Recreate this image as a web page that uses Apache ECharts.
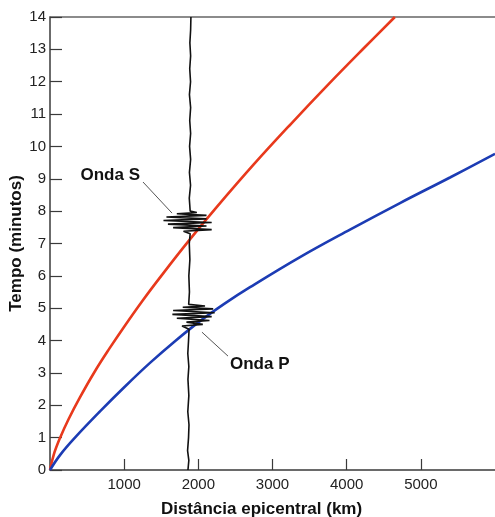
<!DOCTYPE html>
<html>
<head>
<meta charset="utf-8">
<script src="https://cdn.jsdelivr.net/npm/echarts@6/dist/echarts.min.js"></script>
<style>
html,body{margin:0;padding:0;background:#fff;}
#c{width:495px;height:517px;}
</style>
</head>
<body>
<div id="c"></div>
<script>
// x ticks (km) and y ticks (minutes)
const xTicks = [0, 1000, 2000, 3000, 4000, 5000, 6000];
const yTicks = [0,1,2,3,4,5,6,7,8,9,10,11,12,13,14];

// S-wave travel-time curve: [distance km, time min]
const sWave = [[0,0],[50,0.47],[135,0.99],[250,1.57],[400,2.23],[600,3.03],[800,3.75],[1000,4.43],[1250,5.24],[1500,6.0],[1870,7.08],[2250,8.13],[2750,9.45],[3250,10.7],[3750,11.91],[4250,13.08],[4650,14]];

// P-wave travel-time curve
const pWave = [[0,0],[135,0.46],[337,1.0],[674,1.81],[1011,2.58],[1348,3.31],[1685,3.98],[2022,4.6],[2359,5.15],[2697,5.65],[3371,6.58],[4045,7.43],[4719,8.25],[5393,9.04],[6000,9.77]];

// Seismogram trace recorded at ~1870 km
const seismogram = [
 [1860,0],[1872,0.3],[1855,0.6],[1868,1.0],[1874,1.4],[1858,1.8],[1872,2.3],[1860,2.8],[1872,3.2],[1858,3.6],[1868,4.0],[1875,4.35],
 [1780,4.45],[2060,4.5],[1840,4.57],[2150,4.62],[1710,4.69],[2180,4.74],[1650,4.81],[2220,4.86],[1660,4.93],[2200,4.98],[1790,5.03],[2090,5.07],[1870,5.12],
 [1880,5.5],[1872,6.0],[1886,6.5],[1878,7.0],[1890,7.3],
 [1800,7.38],[2180,7.43],[1660,7.49],[2110,7.54],[1590,7.6],[2180,7.65],[1530,7.71],[2110,7.76],[1570,7.82],[2110,7.87],[1710,7.92],[1980,7.96],[1890,8.0],
 [1878,8.4],[1895,8.8],[1880,9.2],[1896,9.6],[1882,10],[1896,10.4],[1884,10.8],[1896,11.2],[1880,11.6],[1895,12],[1884,12.4],[1896,12.8],[1886,13.2],[1896,13.6],[1900,14]
];

// annotation leader lines
const leaderS = [[1254,8.9],[1645,7.94]];
const leaderP = [[2049,4.26],[2400,3.52]];
const labelS = {text:'Onda S', at:[1213,9.12]};
const labelP = {text:'Onda P', at:[2427,3.28]};

const chart = echarts.init(document.getElementById('c'), null, {renderer:'canvas'});
const axisCol = '#3a3a3a';
const font = '"Liberation Sans", Arial, sans-serif';

chart.setOption({
  animation:false,
  backgroundColor:'#ffffff',
  grid:{left:50, right:0, top:17, bottom:47, containLabel:false, outerBoundsMode:'none'},
  xAxis:[{
    type:'value', min:xTicks[0], max:xTicks[xTicks.length-1], interval:1000,
    name:'Distância epicentral (km)', nameLocation:'middle', nameGap:31, nameMoveOverlap:false,
    nameTextStyle:{fontFamily:font, fontWeight:'bold', fontSize:17, color:'#111', padding:[0,22,0,0]},
    axisLine:{lineStyle:{color:axisCol, width:1.5}},
    axisTick:{inside:true, length:11, lineStyle:{color:axisCol, width:1.2}},
    axisLabel:{showMinLabel:false, showMaxLabel:false, margin:7, fontFamily:font, fontSize:15, color:'#222', formatter:(v)=>String(v)},
    splitLine:{show:false}
  },{
    type:'value', position:'top', min:xTicks[0], max:xTicks[xTicks.length-1],
    axisLine:{show:true, lineStyle:{color:'#666', width:1.5}},
    axisTick:{show:false}, axisLabel:{show:false}, splitLine:{show:false}
  }],
  yAxis:{
    type:'value', min:yTicks[0], max:yTicks[yTicks.length-1], interval:1,
    name:'Tempo (minutos)', nameLocation:'middle', nameGap:25, nameRotate:90, nameMoveOverlap:false,
    nameTextStyle:{fontFamily:font, fontWeight:'bold', fontSize:17, color:'#111'},
    axisLine:{show:true, lineStyle:{color:axisCol, width:1.5}},
    axisTick:{inside:true, length:12, lineStyle:{color:axisCol, width:1.2}},
    axisLabel:{margin:4, fontFamily:font, fontSize:15, color:'#222', formatter:(v)=>String(v)},
    splitLine:{show:false}
  },
  series:[
    {type:'line', data:seismogram, showSymbol:false, smooth:false, lineStyle:{color:'#111', width:1.6}, z:3},
    {type:'line', data:sWave, showSymbol:false, smooth:0.4, lineStyle:{color:'#e8391c', width:2.6}, z:2},
    {type:'line', data:pWave, showSymbol:false, smooth:0.4, lineStyle:{color:'#1c3cb4', width:2.6}, z:2},
    {type:'line', data:leaderS, showSymbol:false, lineStyle:{color:'#555', width:1}, z:4},
    {type:'line', data:leaderP, showSymbol:false, lineStyle:{color:'#555', width:1}, z:4}
  ]
});

const pS = chart.convertToPixel({gridIndex:0}, labelS.at);
const pP = chart.convertToPixel({gridIndex:0}, labelP.at);
chart.setOption({
  graphic:[
    {type:'text', x:pS[0], y:pS[1], style:{text:labelS.text, fontFamily:font, fontWeight:'bold', fontSize:17, fill:'#111', align:'right', verticalAlign:'middle'}, z:10},
    {type:'text', x:pP[0], y:pP[1], style:{text:labelP.text, fontFamily:font, fontWeight:'bold', fontSize:17, fill:'#111', align:'left', verticalAlign:'middle'}, z:10}
  ]
});
</script>
</body>
</html>
